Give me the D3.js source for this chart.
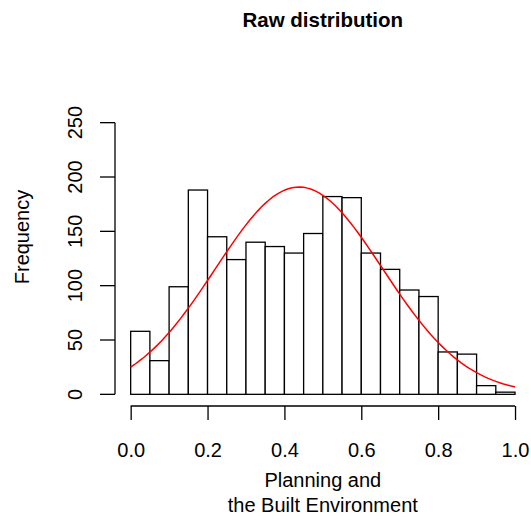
<!DOCTYPE html>
<html>
<head>
<meta charset="utf-8">
<script src="https://cdn.jsdelivr.net/npm/d3@7"></script>
<style>
  body { margin: 0; background: #fff; }
  text { font-family: "Liberation Sans", Arial, sans-serif; fill: #000; }
</style>
</head>
<body>
<script>
// bin counts, bins of width 0.05 from 0 to 1
var binStarts = [0.00, 0.05, 0.10, 0.15, 0.20, 0.25, 0.30, 0.35, 0.40, 0.45,
                 0.50, 0.55, 0.60, 0.65, 0.70, 0.75, 0.80, 0.85, 0.90, 0.95];
var counts = [58, 31, 99, 188, 145, 124, 140, 136, 130, 148,
              182, 181, 130, 115, 96, 90, 39, 37, 8, 2];
var binWidth = 0.05;
var xTicks = [0.0, 0.2, 0.4, 0.6, 0.8, 1.0];
var yTicks = [0, 50, 100, 150, 200, 250];

// fitted normal curve
var fitMean = 0.438;
var fitSd = 0.2174;

var w = 531;
var h = 523;

var svg = d3.select("body")
    .append("svg")
    .attr("width", w)
    .attr("height", h);

// R style: usr range extended by 4%
var xScale = d3.scaleLinear()
    .domain([-0.04, 1.04])
    .range([115.3, 530.4]);

var yScale = d3.scaleLinear()
    .domain([-10, 260])
    .range([405.2, 111.8]);

// bars
svg.selectAll("rect.bar")
    .data(counts)
    .enter()
    .append("rect")
    .attr("class", "bar")
    .attr("x", function (d, i) { return xScale(binStarts[i]); })
    .attr("y", function (d) { return yScale(d); })
    .attr("width", function (d, i) { return xScale(binStarts[i] + binWidth) - xScale(binStarts[i]); })
    .attr("height", function (d) { return yScale(0) - yScale(d); })
    .attr("fill", "#fff")
    .attr("stroke", "#000")
    .attr("stroke-width", 1.3);

// normal density scaled to counts
var total = d3.sum(counts);
function dens(x) {
    var z = (x - fitMean) / fitSd;
    return total * binWidth * Math.exp(-0.5 * z * z) / (fitSd * Math.sqrt(2 * Math.PI));
}
var curveX = d3.range(0, 1.0001, 0.01);

svg.append("path")
    .datum(curveX)
    .attr("fill", "none")
    .attr("stroke", "#ff0000")
    .attr("stroke-width", 1.5)
    .attr("d", d3.line()
        .x(function (d) { return xScale(d); })
        .y(function (d) { return yScale(dens(d)); }));

// x axis
var xAxis = svg.append("g")
    .attr("transform", "translate(0,406)")
    .call(d3.axisBottom(xScale)
        .tickValues(xTicks)
        .tickSize(14)
        .tickPadding(22)
        .tickFormat(d3.format(".1f")));
xAxis.select(".domain").remove();
xAxis.selectAll("line").attr("stroke-width", 1.3);
xAxis.selectAll("text")
    .attr("font-size", "20px")
    .attr("font-family", "Liberation Sans, Arial, sans-serif")
    .attr("dy", null)
    .attr("y", 50.7);
xAxis.append("line")
    .attr("x1", xScale(0))
    .attr("x2", xScale(1))
    .attr("stroke", "#000")
    .attr("stroke-width", 1.3);

// y axis
var yAxis = svg.append("g")
    .attr("transform", "translate(115,0)");
yAxis.append("line")
    .attr("y1", yScale(0))
    .attr("y2", yScale(250))
    .attr("stroke", "#000")
    .attr("stroke-width", 1.3);
yAxis.selectAll("line.tick")
    .data(yTicks)
    .enter()
    .append("line")
    .attr("class", "tick")
    .attr("x1", 0)
    .attr("x2", -15)
    .attr("y1", function (d) { return yScale(d); })
    .attr("y2", function (d) { return yScale(d); })
    .attr("stroke", "#000")
    .attr("stroke-width", 1.3);
yAxis.selectAll("text")
    .data(yTicks)
    .enter()
    .append("text")
    .attr("transform", function (d) { return "translate(-33," + yScale(d) + ") rotate(-90)"; })
    .attr("text-anchor", "middle")
    .attr("font-size", "20px")
    .text(function (d) { return d; });

// labels
svg.append("text")
    .attr("x", 322.8)
    .attr("y", 26.7)
    .attr("text-anchor", "middle")
    .attr("font-size", "20.5px")
    .attr("font-weight", "bold")
    .text("Raw distribution");

svg.append("text")
    .attr("transform", "translate(29,237) rotate(-90)")
    .attr("text-anchor", "middle")
    .attr("font-size", "20px")
    .text("Frequency");

svg.append("text")
    .attr("x", 322.8)
    .attr("y", 487.3)
    .attr("text-anchor", "middle")
    .attr("font-size", "20px")
    .text("Planning and");

svg.append("text")
    .attr("x", 322.8)
    .attr("y", 511.7)
    .attr("text-anchor", "middle")
    .attr("font-size", "20px")
    .text("the Built Environment");
</script>
</body>
</html>
